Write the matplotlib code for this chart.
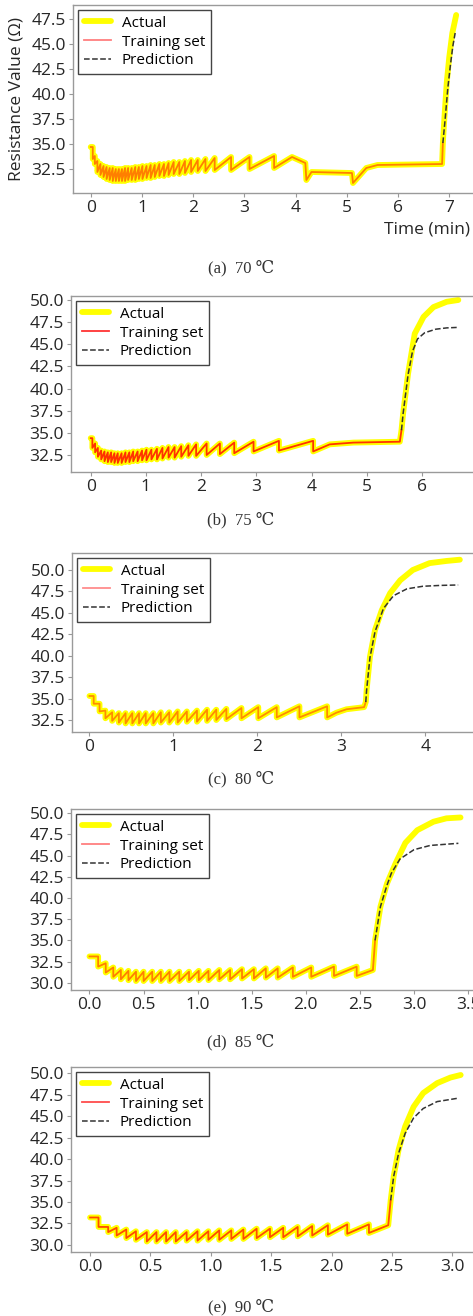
import numpy as np
import matplotlib
matplotlib.use("Agg")
import matplotlib.pyplot as plt
from matplotlib.ticker import MultipleLocator, FormatStrFormatter

plt.rcParams['font.family'] = ['Open Sans', 'DejaVu Sans']

# ---- data (time in min, resistance in ohm) ----
# each sawtooth: start value, drop times, value just before / after each drop,
# then the tail (plateau + step response) and the prediction curve

# (a) 70 C
a_start = 34.7
a_drop = [0.04, 0.08, 0.13, 0.19, 0.25, 0.31, 0.37, 0.43, 0.49, 0.55, 0.61, 0.67, 0.73,
          0.80, 0.87, 0.94, 1.01, 1.09, 1.17, 1.25, 1.34, 1.43, 1.52, 1.62, 1.73, 1.84,
          1.96, 2.09, 2.24, 2.42, 2.74, 3.10, 3.58]
a_peak = [34.7, 33.8, 33.3, 33.0, 32.8, 32.7, 32.6, 32.6, 32.5, 32.5, 32.5, 32.6, 32.6,
          32.6, 32.7, 32.7, 32.8, 32.8, 32.9, 32.9, 33.0, 33.0, 33.1, 33.2, 33.2, 33.3,
          33.4, 33.4, 33.5, 33.6, 33.7, 33.7, 33.8]
a_low = [33.5, 33.0, 32.2, 31.9, 31.7, 31.5, 31.4, 31.3, 31.3, 31.3, 31.3, 31.3, 31.4,
         31.4, 31.4, 31.5, 31.5, 31.6, 31.6, 31.7, 31.8, 31.8, 31.9, 32.0, 32.0, 32.1,
         32.2, 32.3, 32.3, 32.4, 32.4, 32.5, 32.6]
a_tail_t = [3.93, 4.19, 4.21, 4.31, 5.10, 5.12, 5.38, 5.60, 6.86,
            6.875, 6.906, 6.95, 7.00, 7.06, 7.135]
a_tail_v = [33.7, 33.1, 31.4, 32.2, 32.1, 31.1, 32.6, 32.9, 33.0,
            35.1, 37.7, 41.1, 43.7, 46.1, 47.9]
a_pred_t = [6.875, 6.92, 6.97, 7.02, 7.07, 7.115]
a_pred_v = [35.1, 37.5, 40.5, 42.8, 44.8, 46.1]

# (b) 75 C
b_start = 34.4
b_drop = [0.03, 0.08, 0.13, 0.19, 0.25, 0.31, 0.37, 0.43, 0.49, 0.56, 0.63, 0.70, 0.77,
          0.85, 0.93, 1.01, 1.10, 1.20, 1.30, 1.41, 1.52, 1.64, 1.77, 1.91, 2.10, 2.34,
          2.60, 2.95, 3.41, 4.03]
b_peak = [34.4, 33.8, 33.3, 33.0, 32.9, 32.8, 32.8, 32.7, 32.7, 32.7, 32.8, 32.8, 32.9,
          32.9, 33.0, 33.1, 33.1, 33.2, 33.3, 33.4, 33.4, 33.5, 33.6, 33.7, 33.8, 33.8,
          33.9, 34.0, 34.1, 34.1]
b_low = [33.3, 32.8, 32.3, 32.0, 31.8, 31.7, 31.7, 31.6, 31.6, 31.6, 31.7, 31.7, 31.8,
         31.8, 31.9, 31.9, 32.0, 32.0, 32.1, 32.2, 32.2, 32.3, 32.4, 32.4, 32.5, 32.6,
         32.7, 32.9, 33.0, 32.9]
b_tail_t = [4.33, 4.76, 5.60, 5.63, 5.66, 5.75, 5.87, 6.03, 6.21, 6.45, 6.66]
b_tail_v = [33.7, 33.9, 34.0, 35.3, 37.2, 41.7, 46.2, 48.1, 49.2, 49.8, 50.0]
b_pred_t = [5.63, 5.66, 5.75, 5.83, 5.92, 6.05, 6.25, 6.45, 6.63]
b_pred_v = [35.3, 37.2, 41.6, 44.2, 45.6, 46.3, 46.7, 46.85, 46.9]

# (c) 80 C
c_start = 35.3
c_drop = [0.05, 0.12, 0.19, 0.27, 0.35, 0.43, 0.51, 0.59, 0.67, 0.76, 0.85, 0.95, 1.05,
          1.16, 1.28, 1.40, 1.51, 1.63, 1.81, 2.01, 2.23, 2.50, 2.83]
c_peak = [35.3, 34.4, 33.6, 33.4, 33.3, 33.3, 33.3, 33.3, 33.3, 33.3, 33.4, 33.4, 33.5,
          33.5, 33.6, 33.7, 33.7, 33.8, 33.9, 34.0, 34.0, 34.1, 34.1]
c_low = [34.4, 33.5, 32.7, 32.4, 32.2, 32.1, 32.1, 32.1, 32.1, 32.1, 32.2, 32.2, 32.2,
         32.3, 32.3, 32.4, 32.5, 32.6, 32.7, 32.7, 32.8, 32.8, 32.8]
c_tail_t = [2.94, 3.06, 3.27, 3.29, 3.30, 3.34, 3.40, 3.48, 3.58, 3.70, 3.85, 4.05, 4.25, 4.41]
c_tail_v = [33.35, 33.75, 34.0, 34.6, 36.0, 39.9, 43.0, 45.3, 47.3, 48.8, 50.0, 50.8, 51.05, 51.2]
c_pred_t = [3.29, 3.30, 3.34, 3.40, 3.50, 3.62, 3.78, 3.97, 4.18, 4.39]
c_pred_v = [34.6, 36.0, 39.8, 42.8, 45.5, 47.0, 47.8, 48.1, 48.2, 48.25]

# (d) 85 C
d_start = 33.1
d_drop = [0.08, 0.15, 0.22, 0.29, 0.36, 0.43, 0.50, 0.58, 0.66, 0.74, 0.83, 0.92, 1.01,
          1.10, 1.20, 1.30, 1.41, 1.52, 1.63, 1.74, 1.88, 2.05, 2.26, 2.47]
d_peak = [33.1, 32.3, 31.8, 31.5, 31.4, 31.3, 31.3, 31.3, 31.3, 31.3, 31.3, 31.3, 31.4,
          31.4, 31.5, 31.5, 31.6, 31.6, 31.7, 31.7, 31.8, 31.8, 31.9, 31.9]
d_low = [31.9, 31.2, 30.7, 30.4, 30.3, 30.2, 30.2, 30.2, 30.2, 30.2, 30.2, 30.3, 30.3,
         30.3, 30.4, 30.4, 30.5, 30.5, 30.6, 30.6, 30.7, 30.7, 30.8, 30.8]
d_tail_t = [2.62, 2.64, 2.69, 2.75, 2.83, 2.92, 3.03, 3.18, 3.30, 3.43]
d_tail_v = [31.5, 35.0, 39.0, 41.7, 44.1, 46.5, 48.0, 49.0, 49.4, 49.5]
d_pred_t = [2.64, 2.69, 2.75, 2.79, 2.87, 3.00, 3.15, 3.41]
d_pred_v = [35.0, 39.0, 41.5, 42.9, 44.6, 45.7, 46.2, 46.45]

# (e) 90 C
e_start = 33.2
e_drop = [0.07, 0.15, 0.22, 0.30, 0.38, 0.47, 0.55, 0.63, 0.71, 0.80, 0.89, 0.98, 1.07,
          1.17, 1.27, 1.38, 1.49, 1.60, 1.72, 1.84, 1.97, 2.13, 2.31]
e_peak = [33.2, 32.1, 32.0, 31.8, 31.6, 31.5, 31.5, 31.5, 31.5, 31.5, 31.6, 31.6, 31.7,
          31.7, 31.8, 31.9, 31.9, 32.0, 32.1, 32.2, 32.3, 32.4, 32.4]
e_low = [32.1, 31.5, 31.1, 30.8, 30.6, 30.4, 30.4, 30.4, 30.4, 30.5, 30.5, 30.6, 30.6,
         30.7, 30.7, 30.8, 30.9, 30.9, 31.0, 31.1, 31.2, 31.3, 31.4]
e_tail_t = [2.47, 2.49, 2.515, 2.556, 2.61, 2.68, 2.76, 2.875, 2.985, 3.07]
e_tail_v = [32.3, 35.2, 38.0, 41.1, 43.8, 46.1, 47.7, 48.85, 49.5, 49.8]
e_pred_t = [2.49, 2.515, 2.556, 2.61, 2.68, 2.76, 2.875, 3.05]
e_pred_v = [35.2, 38.0, 40.7, 43.0, 44.8, 45.9, 46.7, 47.1]

captions = ["(a)  70 \u2103", "(b)  75 \u2103", "(c)  80 \u2103", "(d)  85 \u2103", "(e)  90 \u2103"]


def build(start, drops, peaks, lows, tail_t, tail_v):
    t = [0.0]
    v = [start]
    for d, p, q in zip(drops, peaks, lows):
        t += [d, d]
        v += [p, q]
    return np.array(t + tail_t), np.array(v + tail_v)


panels = [
    (build(a_start, a_drop, a_peak, a_low, a_tail_t, a_tail_v), a_pred_t, a_pred_v),
    (build(b_start, b_drop, b_peak, b_low, b_tail_t, b_tail_v), b_pred_t, b_pred_v),
    (build(c_start, c_drop, c_peak, c_low, c_tail_t, c_tail_v), c_pred_t, c_pred_v),
    (build(d_start, d_drop, d_peak, d_low, d_tail_t, d_tail_v), d_pred_t, d_pred_v),
    (build(e_start, e_drop, e_peak, e_low, e_tail_t, e_tail_v), e_pred_t, e_pred_v),
]

# layout in pixels (left, top, right, bottom) and axis limits
W, H = 473, 1316
boxes = [(73, 5, 480, 193), (71, 296, 476, 472), (72, 553, 480, 732),
         (71, 809, 480, 990), (71, 1067, 480, 1252)]
xlims = [(-0.346, 7.60), (-0.357, 6.98), (-0.208, 4.65), (-0.171, 3.61), (-0.158, 3.23)]
ylims = [(30.1, 48.9), (30.58, 50.45), (31.1, 51.98), (29.14, 50.5), (29.18, 50.73)]
xsteps = [1, 1, 1, 0.5, 0.5]
xfmt = ['%d', '%d', '%d', '%.1f', '%.1f']
train_alpha = [0.5, 0.8, 0.45, 0.5, 0.7]
cap_y = [268, 520, 779, 1042, 1307]

fig = plt.figure(figsize=(W / 100, H / 100), dpi=100)

for i, ((t, v), pt, pv) in enumerate(panels):
    l, tp, r, b = boxes[i]
    ax = fig.add_axes([l / W, 1 - b / H, (r - l) / W, (b - tp) / H])
    split = pt[0]
    m = t <= split + 1e-9
    ax.plot(t, v, color='yellow', lw=4.2, solid_capstyle='round', label='Actual')
    ax.plot(t[m], v[m], color='red', lw=1.3, alpha=train_alpha[i], label='Training set')
    ax.plot(pt, pv, color='#333333', lw=1.1, ls='--', label='Prediction')

    ax.set_xlim(*xlims[i])
    ax.set_ylim(*ylims[i])
    ax.xaxis.set_major_locator(MultipleLocator(xsteps[i]))
    ax.xaxis.set_major_formatter(FormatStrFormatter(xfmt[i]))
    ax.yaxis.set_major_locator(MultipleLocator(2.5))
    ax.yaxis.set_major_formatter(FormatStrFormatter('%.1f'))
    ax.tick_params(labelsize=12.5, length=3, width=0.8, pad=2, color='#999999', labelcolor='#262626')
    for s in ax.spines.values():
        s.set_color('#9a9a9a')
        s.set_linewidth(1.0)

    leg = ax.legend(loc='upper left', fontsize=11, fancybox=False, framealpha=1,
                    edgecolor='#444444', borderaxespad=0.35, handlelength=1.8,
                    handletextpad=0.7, borderpad=0.35, labelspacing=0.25)
    leg.get_frame().set_linewidth(1.0)

    if i == 0:
        ax.set_ylabel('Resistance Value (\u03a9)', fontsize=12.5, color='#262626')
        ax.yaxis.set_label_coords(-0.12, 0.5)
        ax.set_xlabel('Time (min)', fontsize=12.5, color='#262626', loc='right')
        ax.xaxis.set_label_coords((470 - l) / (r - l), -(222 - b) / (b - tp))

    fig.text(241 / W, 1 - cap_y[i] / H, captions[i], ha='center', va='center',
             fontsize=12, color='#333333',
             family=['Liberation Serif', 'DejaVu Serif', 'Noto Sans CJK KR'])

fig.savefig('out.png', dpi=100)
